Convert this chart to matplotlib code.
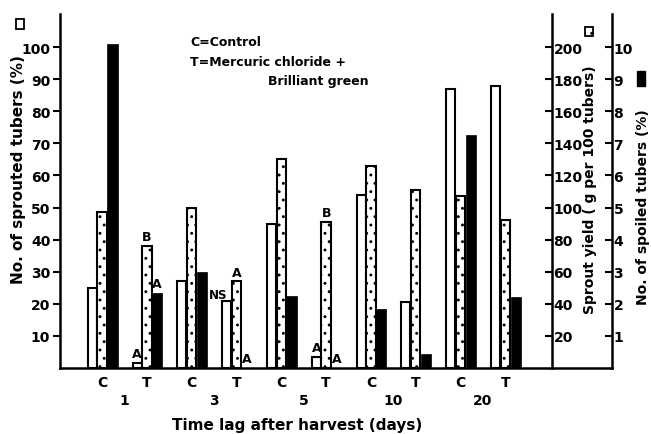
import matplotlib.pyplot as plt
import numpy as np
from matplotlib.patches import Rectangle

# storage groups: control (C) and treated (T) for each time lag
treatments = ["C", "T", "C", "T", "C", "T", "C", "T", "C", "T"]
days = ["1", "3", "5", "10", "20"]

sprouted_pct = [25, 1.5, 27, 21, 45, 3.5, 54, 20.5, 87, 88]      # left axis
sprout_yield = [97, 76, 100, 54, 130, 91, 126, 111, 107, 92]     # g per 100 tubers
spoiled_pct = [10.1, 2.35, 3.0, 0, 2.25, 0, 1.85, 0.45, 7.25, 2.2]

# significance letters: (bar group, series 0=sprouted 1=yield 2=spoiled, text)
sig_marks = [
    (1, 0, "A"), (1, 1, "B"), (1, 2, "A"),
    (3, 0, "NS"), (3, 1, "A"), (3, 2, "A"),
    (5, 0, "A"), (5, 1, "B"), (5, 2, "A"),
]

plt.rcParams.update({"font.family": "DejaVu Sans", "font.weight": "bold",
                     "hatch.linewidth": 0.9})

W, H = 651, 435
fig = plt.figure(figsize=(W / 100, H / 100), dpi=100)
ax = fig.add_axes([60 / W, 1 - 369 / H, 552 / W, 354 / H])
ax2 = ax.twinx()
ax3 = ax.twinx()

x = np.arange(len(treatments))
offs = [-0.22, 0.0, 0.23]
widths = [0.2, 0.21, 0.23]
lw = 1.5

ax.bar(x + offs[0], sprouted_pct, widths[0], facecolor="white",
       edgecolor="black", linewidth=lw)
ax2.bar(x + offs[1], sprout_yield, widths[1], facecolor="white",
        edgecolor="black", linewidth=lw, hatch="..")
ax3.bar(x + offs[2], spoiled_pct, widths[2], facecolor="black",
        edgecolor="black", linewidth=0.5)

ax.set_xlim(-0.94, 11.38)
ax.set_ylim(0, 110.3)
ax2.set_ylim(0, 220.6)
ax3.set_ylim(0, 11.03)

for a in (ax, ax2, ax3):
    a.spines["top"].set_visible(False)
    for s in a.spines.values():
        s.set_linewidth(1.8)
for a in (ax2, ax3):
    a.spines["left"].set_visible(False)
    a.spines["bottom"].set_visible(False)
ax.spines["right"].set_visible(False)
ax2.spines["right"].set_position(("axes", 492 / 552))

ax.set_yticks(np.arange(10, 101, 10))
ax2.set_yticks(np.arange(20, 201, 20))
ax3.set_yticks(np.arange(1, 11, 1))
ax.tick_params(axis="y", direction="out", length=5, width=1.5, labelsize=10, pad=2)
ax2.tick_params(axis="y", direction="in", length=5, width=1.5, labelsize=10, pad=1)
ax3.tick_params(axis="y", direction="in", length=5, width=1.5, labelsize=10, pad=1)

ax.set_xticks(x)
ax.set_xticklabels(treatments, fontsize=10)
ax.tick_params(axis="x", length=0, pad=5)

# day labels under each C/T pair
for i, d in enumerate(days):
    ax.text(2 * i + 0.5, -0.09, d, transform=ax.get_xaxis_transform(),
            ha="center", va="center", fontsize=10)

ax.text(0.43, -0.16, "Time lag after harvest (days)", transform=ax.transAxes,
        ha="center", va="center", fontsize=11)

# significance letters above bars
bar_sets = [(ax, sprouted_pct), (ax2, sprout_yield), (ax3, spoiled_pct)]
for g, s, txt in sig_marks:
    a, vals = bar_sets[s]
    dx = -6 if txt == "NS" else 0
    dy = 0 if txt == "NS" else 2
    fs = 8.5 if txt == "NS" else 9
    a.annotate(txt, (x[g] + offs[s], vals[g]), xytext=(dx, dy),
               textcoords="offset points", ha="center", va="bottom", fontsize=fs)

# key
fig.text(190 / W, 1 - 43 / H, "C=Control", ha="left", va="center", fontsize=9)
fig.text(190 / W, 1 - 62 / H, "T=Mercuric chloride +", ha="left", va="center", fontsize=9)
fig.text(268 / W, 1 - 81 / H, "Brilliant green", ha="left", va="center", fontsize=9)

# axis titles with their bar symbols
fig.text(19 / W, 1 - 170 / H, "No. of sprouted tubers (%)", rotation=90,
         ha="center", va="center", fontsize=11)
fig.text(590 / W, 1 - 190 / H, "Sprout yield ( g per 100 tubers)", rotation=90,
         ha="center", va="center", fontsize=10)
fig.text(643 / W, 1 - 207 / H, "No. of spoiled tubers (%)", rotation=90,
         ha="center", va="center", fontsize=10)

fig.add_artist(Rectangle((16 / W, 1 - 30 / H), 8 / W, 10 / H, transform=fig.transFigure,
                         facecolor="white", edgecolor="black", linewidth=1.3))
fig.add_artist(Rectangle((585 / W, 1 - 37 / H), 8 / W, 9 / H, transform=fig.transFigure,
                         facecolor="white", edgecolor="black", linewidth=1.3, hatch=".."))
fig.add_artist(Rectangle((637 / W, 1 - 87 / H), 8 / W, 15 / H, transform=fig.transFigure,
                         facecolor="black", edgecolor="black", linewidth=1))

fig.savefig("out.png", dpi=100)
